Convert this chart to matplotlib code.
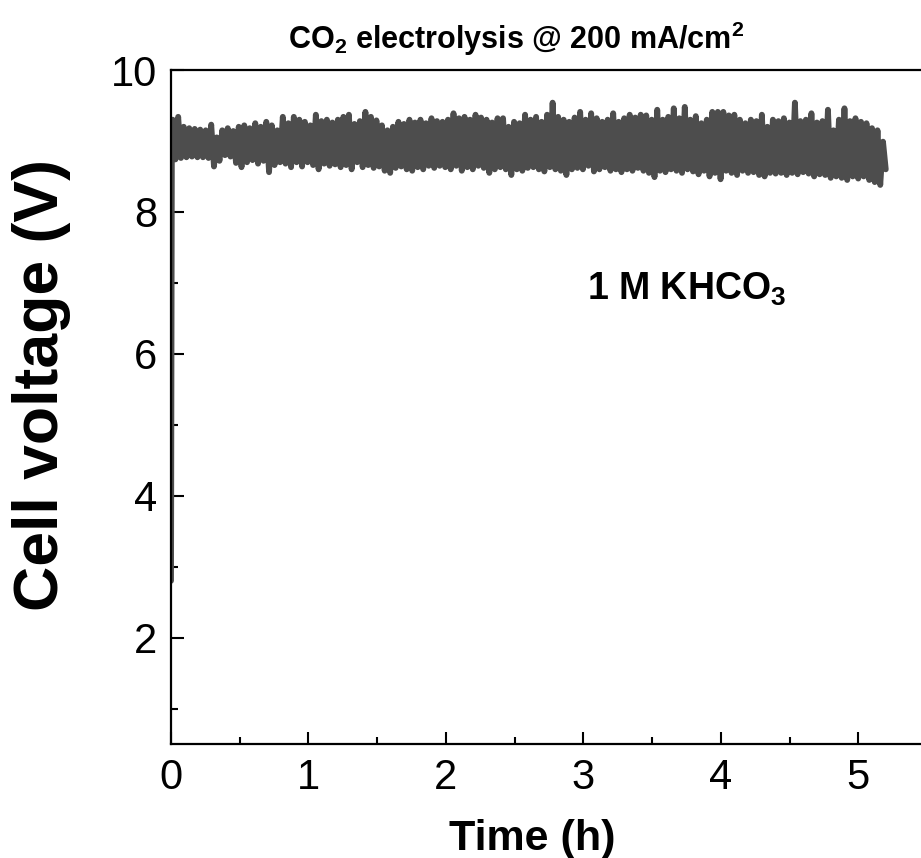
import numpy as np
import matplotlib
matplotlib.use("Agg")
import matplotlib.pyplot as plt

plt.rcParams['font.family'] = ['Liberation Sans', 'DejaVu Sans']
plt.rcParams['mathtext.fontset'] = 'custom'
plt.rcParams['mathtext.rm'] = 'Liberation Sans'
plt.rcParams['mathtext.bf'] = 'Liberation Sans:bold'

# start-up of the cell (time in h, voltage in V)
t_start = [0.0, 0.006]
v_start = [2.8, 8.85]

# upper and lower swings of the noisy voltage trace, read every ~0.04 h
v_upper = [9.30, 9.34, 9.20, 9.18, 9.17, 9.16, 9.15, 9.23, 9.05, 9.15,
           9.18, 9.14, 9.20, 9.22, 9.18, 9.25, 9.20, 9.27, 9.22, 9.15,
           9.34, 9.25, 9.34, 9.30, 9.27, 9.22, 9.37, 9.28, 9.30, 9.26,
           9.30, 9.34, 9.37, 9.24, 9.28, 9.41, 9.34, 9.29, 9.22, 9.15,
           9.20, 9.27, 9.24, 9.30, 9.26, 9.30, 9.25, 9.32, 9.28, 9.27,
           9.30, 9.39, 9.32, 9.34, 9.30, 9.37, 9.33, 9.30, 9.26, 9.32,
           9.32, 9.20, 9.27, 9.25, 9.37, 9.30, 9.34, 9.27, 9.37, 9.54,
           9.34, 9.30, 9.27, 9.33, 9.41, 9.30, 9.39, 9.32, 9.27, 9.30,
           9.39, 9.27, 9.32, 9.37, 9.33, 9.37, 9.36, 9.30, 9.44, 9.30,
           9.34, 9.46, 9.32, 9.48, 9.30, 9.35, 9.25, 9.30, 9.41, 9.41,
           9.41, 9.36, 9.37, 9.30, 9.25, 9.30, 9.28, 9.37, 9.20, 9.30,
           9.28, 9.32, 9.26, 9.54, 9.28, 9.30, 9.39, 9.26, 9.28, 9.44,
           9.15, 9.30, 9.46, 9.28, 9.32, 9.27, 9.25, 9.18, 9.15, 8.99]
v_lower = [8.74, 8.76, 8.77, 8.78, 8.77, 8.77, 8.76, 8.64, 8.72, 8.80,
           8.78, 8.69, 8.63, 8.70, 8.73, 8.68, 8.72, 8.56, 8.66, 8.70,
           8.68, 8.63, 8.70, 8.64, 8.70, 8.66, 8.60, 8.68, 8.65, 8.67,
           8.63, 8.66, 8.60, 8.70, 8.63, 8.66, 8.62, 8.64, 8.58, 8.55,
           8.62, 8.64, 8.60, 8.58, 8.63, 8.60, 8.65, 8.62, 8.65, 8.63,
           8.60, 8.65, 8.58, 8.63, 8.60, 8.65, 8.62, 8.55, 8.60, 8.63,
           8.60, 8.52, 8.60, 8.58, 8.62, 8.63, 8.60, 8.57, 8.63, 8.60,
           8.58, 8.52, 8.60, 8.62, 8.60, 8.65, 8.57, 8.60, 8.63, 8.58,
           8.60, 8.56, 8.60, 8.58, 8.62, 8.58, 8.55, 8.49, 8.58, 8.56,
           8.60, 8.58, 8.55, 8.60, 8.57, 8.53, 8.58, 8.50, 8.55, 8.46,
           8.58, 8.55, 8.52, 8.58, 8.55, 8.56, 8.52, 8.50, 8.55, 8.54,
           8.55, 8.52, 8.55, 8.53, 8.56, 8.54, 8.50, 8.53, 8.52, 8.48,
           8.50, 8.48, 8.45, 8.50, 8.47, 8.50, 8.45, 8.42, 8.38, 8.60]
t_end = 5.2

volt = np.column_stack([v_upper, v_lower]).ravel()
time = np.linspace(0.012, t_end, len(volt))
time = np.concatenate([t_start, time])
volt = np.concatenate([v_start, volt])

fig = plt.figure(figsize=(9.21, 8.58), dpi=100)
ax = fig.add_axes([0.1857, 0.1329, 0.8208, 0.7855])

ax.plot(time, volt, color='#4d4d4d', lw=4.2, solid_capstyle='round',
        solid_joinstyle='round')

ax.set_xlim(0, 5.5)
ax.set_ylim(0.5, 10)
ax.set_xticks([0, 1, 2, 3, 4, 5])
ax.set_xticks(np.arange(0.5, 5.5, 1), minor=True)
ax.set_yticks([2, 4, 6, 8, 10])
ax.set_yticks([1, 3, 5, 7, 9], minor=True)
ax.tick_params(which='both', direction='in', width=1.5, labelsize=30,
               top=False, right=False)
ax.tick_params(which='major', length=9)
ax.tick_params(which='minor', length=5)
ax.tick_params(axis='x', pad=10)
ax.tick_params(axis='y', pad=10)
for s in ax.spines.values():
    s.set_linewidth(1.6)

ax.set_xlabel('Time (h)', fontsize=31, fontweight='bold')
ax.xaxis.set_label_coords(0.4775, -0.111)
ax.set_ylabel('Cell voltage (V)', fontsize=45, fontweight='bold')
ax.yaxis.set_label_coords(-0.132, 0.533)

ax.text(3.03, 6.76, r'1 M KHCO$_\mathbf{3}$', fontsize=27, fontweight='bold',
        ha='left', va='baseline')
fig.text(0.3127, 0.943, r'CO$_\mathbf{2}$ electrolysis @ 200 mA/cm$^\mathbf{2}$',
         fontsize=22, fontweight='bold', ha='left', va='baseline')

fig.savefig('out.png', dpi=100)
